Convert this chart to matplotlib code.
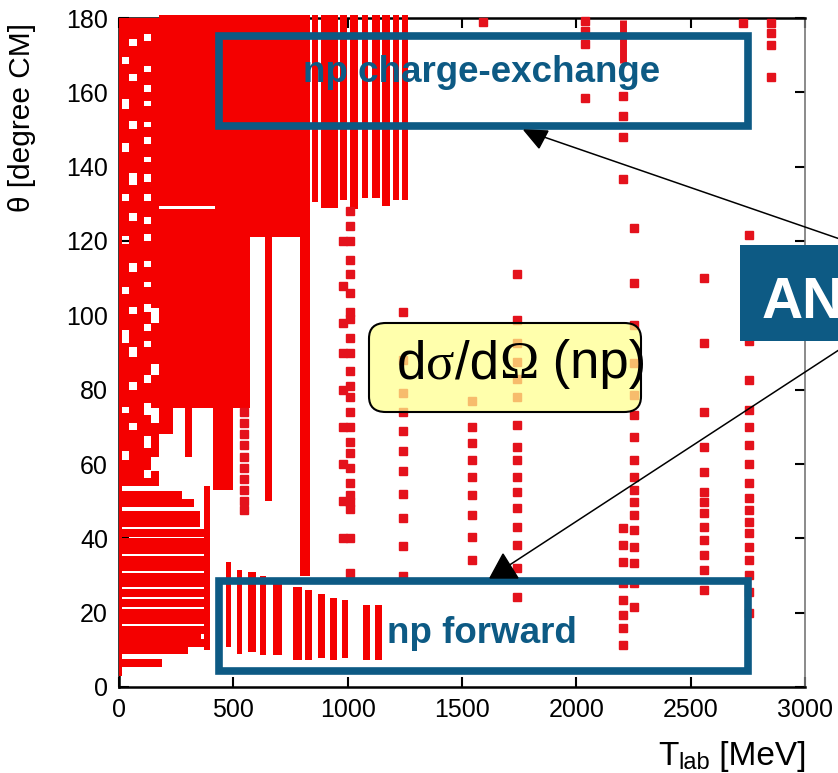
import matplotlib
matplotlib.use('Agg')
import numpy as np
import matplotlib.pyplot as plt
from matplotlib.patches import Rectangle, FancyBboxPatch, Polygon
from matplotlib.lines import Line2D

plt.rcParams['font.family'] = ['Liberation Sans', 'DejaVu Sans']

W, H = 838, 773
RED = '#f40000'
DOT = '#e4121c'
BLUE = '#0d5a84'

# ---- np differential cross section database: T_lab [MeV], theta [deg CM] ----

# solid coverage regions (energy range x angle range)
blk_t0 = [175, 175, 420, 575, 175, 290, 410]
blk_t1 = [812, 420, 575, 812, 235, 320, 500]
blk_a0 = [129.5, 75, 75, 121, 68, 62, 53]
blk_a1 = [180.8, 128.5, 129.6, 129.6, 75, 75, 75]

# narrow dense columns
col_t0 = [640, 790, 370]
col_t1 = [670, 835, 400]
col_a0 = [50, 30, 10]
col_a1 = [121, 180.8, 54]

# charge-exchange angular distributions (backward angles up to 180)
ce_t0 = [844, 883, 966, 1010, 1063, 1106, 1150, 1198, 1238]
ce_t1 = [870, 958, 997, 1045, 1089, 1141, 1185, 1224, 1264]
ce_a0 = [130.5, 129, 131, 128.5, 131.5, 131.5, 129.5, 131, 131]

# forward angular distributions
fw_t0 = [470, 515, 565, 615, 675, 760, 813, 870, 923, 975, 1067, 1120]
fw_t1 = [490, 540, 600, 645, 715, 800, 845, 900, 953, 1000, 1097, 1150]
fw_a0 = [10.8, 9, 9.4, 8.6, 8.6, 7.3, 7.3, 7.8, 7.3, 7.8, 7.3, 7.3]
fw_a1 = [33.6, 31.5, 31, 30, 28, 27, 26, 25, 24, 23.4, 22, 22]

# excitation functions at fixed angle (low energies)
row_a = [51.7, 49.5, 46.3, 44.1, 41.4, 39.0, 36.9, 34.2, 32.3, 29.6,
         28.0, 25.3, 22.6, 19.9, 18.0, 15.3, 13.5, 11.8, 10.0, 6.5]
row_t1 = [275, 330, 355, 355, 370, 398, 398, 398, 398, 398,
          398, 398, 398, 398, 398, 398, 360, 398, 300, 190]

# low-energy strip: energy bands with angular gaps
strip_t0 = [0, 14, 45, 80, 108, 140]
strip_t1 = [14, 45, 80, 108, 140, 175]
strip_lo = [3, 54, 54, 54, 54, 54]
gaps_a = []
gaps_b = [(61, 63.6), (73.7, 75.3), (92.5, 96.1), (105.7, 107.6), (119.2, 121.4),
          (130.7, 132.6), (143.9, 146.4), (155.5, 158.2), (167.6, 169.5)]
gaps_c = [(69.1, 71), (79.9, 82.1), (88.8, 91.5), (100.3, 102.2), (111.6, 114.1),
          (125.4, 127.5), (135, 138.3), (150.1, 152.3), (163, 164.9), (172.4, 174.3)]
gaps_d = []
gaps_e = [(56.2, 58.5), (64.3, 67.5), (73.1, 76.5), (81.8, 84), (91.5, 93), (95.8, 97.6),
          (101, 103), (107.6, 109), (113, 114.6), (120, 122), (124.5, 126.4),
          (130.7, 132.6), (136, 138), (141.2, 142.6), (146, 148), (150.6, 152),
          (156.3, 157.6), (160, 162), (165.4, 167), (173.8, 175.7)]
gaps_f = [(58, 62), (71, 75), (84, 87), (98, 102)]
strip_gaps = [gaps_a, gaps_b, gaps_c, gaps_d, gaps_e, gaps_f]

# sparse angular distributions
th_545 = [74, 71, 68, 65, 62, 59, 56, 53, 50, 47.6]
th_980 = [120, 108, 98, 90, 80, 70, 60, 50, 40]
th_1010 = [128, 124, 120, 115, 111, 106, 101, 99, 94, 90, 85, 81, 78, 74,
           70, 66, 63, 59, 55, 51.7, 49.8, 48, 40, 30.7]
th_1240 = [101, 88, 79, 74, 69, 63.5, 58, 52, 45.5, 38, 30]
th_1545 = [77, 70, 65.7, 61, 56.5, 51.7, 46.3, 40.4, 34.2]
th_1590 = [179]
th_1740 = [111, 98.7, 92.5, 87.5, 83, 78, 70.5, 64.6, 61, 56.5, 52.5, 48.2,
           43, 38.2, 32, 24.2]
th_2040 = [179.3, 176.6, 173, 158.5]
th_2204 = [159, 153.5, 148, 136.7, 42.8, 38.2, 33.6, 28, 23.4, 19.4, 15.9, 11.3]
th_2252 = [123.5, 108.7, 97.4, 87.2, 78.6, 73.2, 67.3, 61, 56.5, 53, 49.8,
           46.3, 42.2, 37.7, 33.4, 28, 21.5]
th_2558 = [110, 92.5, 74, 64.6, 57.9, 52.5, 49.8, 46.8, 43, 39.6, 35.5, 31.5, 26.1]
th_2730 = [178.6]
th_2754 = [121.6, 93, 82.6, 74.5, 70, 65, 60, 55, 50.9, 47.6, 44.4, 41.4,
           37.7, 34.2, 30.1, 25.6, 19.9]
th_2851 = [178.6, 176, 172.7, 164]
sparse = {545: th_545, 980: th_980, 1010: th_1010, 1240: th_1240,
          1545: th_1545, 1590: th_1590, 1740: th_1740, 2040: th_2040,
          2204: th_2204, 2252: th_2252, 2558: th_2558, 2730: th_2730,
          2754: th_2754, 2851: th_2851}
# short dense run at 2204 MeV near 180 deg
run_t, run_a0, run_a1 = [2204], [168], [179.5]


def spans(lo, hi, gaps):
    # split [lo, hi] into pieces that skip the listed gaps
    out, cur = [], lo
    for g0, g1 in sorted(gaps):
        if g0 > cur:
            out.append((cur, g0))
        cur = max(cur, g1)
    if cur < hi:
        out.append((cur, hi))
    return out


def fx(x):
    return x / W


def fy(y):
    return 1 - y / H


def chain_text(fig, x, y, pieces, **kw):
    # place text pieces one after another on a common baseline (pixels)
    r = fig.canvas.get_renderer()
    for s, fam, size, dy in pieces:
        t = fig.text(fx(x), fy(y + dy), s, family=fam, fontsize=size,
                     ha='left', va='baseline', **kw)
        x += t.get_window_extent(r).width


fig = plt.figure(figsize=(W / 100, H / 100), dpi=100)
ax = fig.add_axes([119 / W, 1 - 687 / H, (805 - 119) / W, (687 - 18) / H])

bar_kw = dict(align='edge', color=RED, linewidth=0, zorder=3, clip_on=False)

ax.bar(blk_t0, np.subtract(blk_a1, blk_a0), width=np.subtract(blk_t1, blk_t0),
       bottom=blk_a0, **bar_kw)
ax.bar(col_t0, np.subtract(col_a1, col_a0), width=np.subtract(col_t1, col_t0),
       bottom=col_a0, **bar_kw)
ax.bar(ce_t0, 180.8 - np.array(ce_a0), width=np.subtract(ce_t1, ce_t0),
       bottom=ce_a0, **bar_kw)
ax.bar(fw_t0, np.subtract(fw_a1, fw_a0), width=np.subtract(fw_t1, fw_t0),
       bottom=fw_a0, **bar_kw)
ax.barh(row_a, row_t1, height=2.2, left=0, color=RED, linewidth=0, zorder=3)

for t0, t1, lo, gaps in zip(strip_t0, strip_t1, strip_lo, strip_gaps):
    for a0, a1 in spans(lo, 180, gaps):
        ax.bar(t0, a1 - a0, width=t1 - t0, bottom=a0, align='edge',
               color=RED, linewidth=0, zorder=3)

for t, angles in sparse.items():
    ax.plot([t] * len(angles), angles, ls='none', marker='s', ms=5.5,
            color=DOT, mec=DOT, zorder=3, clip_on=False)
ax.vlines(run_t, run_a0, run_a1, color=DOT, lw=5, zorder=3)

ax.set_xlim(0, 3000)
ax.set_ylim(0, 180)
ax.set_xticks(range(0, 3001, 500))
ax.set_yticks(range(0, 181, 20))
ax.tick_params(direction='in', length=7, width=1.5, top=True, right=True,
               labelsize=18, pad=8)
for s in ['left', 'bottom', 'top']:
    ax.spines[s].set_linewidth(1.8)
ax.spines['right'].set_color('#777777')
ax.spines['right'].set_linewidth(1.2)
for tl in ax.yaxis.get_ticklines()[1::2]:
    tl.set_color('#777777')

fig.text(fx(22), fy(118), 'θ [degree CM]', rotation=90, ha='center',
         va='center', fontsize=21.5)
chain_text(fig, 658, 765, [('T', 'Liberation Sans', 24, 0),
                           ('lab', 'Liberation Sans', 17, 4),
                           (' [MeV]', 'Liberation Sans', 24, 0)])

# outlined labels for the two angular regions
for y0, y1, label, base in [(36, 126, 'np charge-exchange', 82),
                            (580.5, 671, 'np forward', 643)]:
    fig.add_artist(Rectangle((fx(218.5), fy(y1)), fx(748) - fx(218.5),
                             fy(y0) - fy(y1), fill=False, edgecolor=BLUE,
                             linewidth=5.5, transform=fig.transFigure, zorder=5))
    fig.text(fx(482), fy(base), label, ha='center', va='baseline',
             fontsize=26.5, fontweight='bold', color=BLUE, zorder=6)

# observable tag
fig.add_artist(FancyBboxPatch((fx(369), fy(412)), fx(641) - fx(369),
                              fy(323) - fy(412),
                              boxstyle='round,pad=0,rounding_size=0.02',
                              fc=(1, 1, 0.55, 0.72), ec='black', lw=1.5,
                              transform=fig.transFigure, zorder=5))
chain_text(fig, 397, 378, [('d', 'Liberation Sans', 38, 0),
                           ('σ', 'Liberation Serif', 38, 0),
                           ('/d', 'Liberation Sans', 38, 0),
                           ('Ω', 'Liberation Serif', 38, 0),
                           (' (np)', 'Liberation Sans', 38, 0)], zorder=6)

# analysing-power box with arrows
fig.add_artist(Rectangle((fx(740), fy(341)), 0.3, fy(245) - fy(341),
                         fc=BLUE, ec='none', transform=fig.transFigure, zorder=5))
fig.text(fx(762), fy(318), 'AN', ha='left', va='baseline', fontsize=41,
         fontweight='bold', color='white', zorder=6)

fig.add_artist(Line2D([fx(850), fx(541)], [fy(242.5), fy(136)], color='black',
                      lw=1.1, transform=fig.transFigure, zorder=7))
fig.add_artist(Polygon([(fx(524), fy(130)), (fx(548), fy(131)), (fx(539), fy(148))],
                       closed=True, fc='black', ec='black',
                       transform=fig.transFigure, zorder=7))
fig.add_artist(Line2D([fx(850), fx(508)], [fy(342.7), fy(566)], color='black',
                      lw=1.1, transform=fig.transFigure, zorder=7))
fig.add_artist(Polygon([(fx(490), fy(578)), (fx(518), fy(578)), (fx(503), fy(554))],
                       closed=True, fc='black', ec='black',
                       transform=fig.transFigure, zorder=7))

plt.savefig('out.png', dpi=100)
